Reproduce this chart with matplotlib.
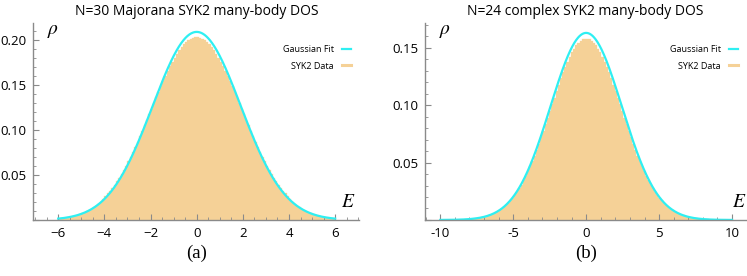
import numpy as np
import matplotlib.pyplot as plt
from matplotlib.lines import Line2D
from matplotlib.ticker import MultipleLocator, FuncFormatter

# %% data
# panel (a): N=30 Majorana, histogram bins of width 0.1 on [-6, 6] (symmetric, positive half listed)
bins_a = np.linspace(-6.0, 6.0, 121)
half_a = [0.2029, 0.2024, 0.2014, 0.1998, 0.1977, 0.1952, 0.1921, 0.1887, 0.1848, 0.1805,
          0.1759, 0.1709, 0.1656, 0.1601, 0.1544, 0.1485, 0.1424, 0.1363, 0.1300, 0.1238,
          0.1175, 0.1112, 0.1050, 0.0989, 0.0929, 0.0871, 0.0814, 0.0759, 0.0705, 0.0654,
          0.0605, 0.0558, 0.0513, 0.0471, 0.0431, 0.0394, 0.0358, 0.0326, 0.0295, 0.0266,
          0.0230, 0.0204, 0.0181, 0.0160, 0.0141, 0.0124, 0.0109, 0.0095, 0.0083, 0.0072,
          0.0062, 0.0054, 0.0047, 0.0040, 0.0035, 0.0030, 0.0025, 0.0021, 0.0018, 0.0015]
fit_a = dict(amp=0.209, mu=0.0, sigma=1.909, lo=-6, hi=6)

# panel (b): N=24 complex, histogram bins of width 0.15 on [-9, 9]
bins_b = np.linspace(-9.0, 9.0, 121)
half_b = [0.1579, 0.1573, 0.1562, 0.1544, 0.1521, 0.1493, 0.1460, 0.1422, 0.1380, 0.1334,
          0.1285, 0.1233, 0.1179, 0.1123, 0.1065, 0.1007, 0.0949, 0.0890, 0.0832, 0.0775,
          0.0719, 0.0664, 0.0612, 0.0561, 0.0513, 0.0467, 0.0424, 0.0383, 0.0345, 0.0309,
          0.0276, 0.0246, 0.0218, 0.0193, 0.0170, 0.0149, 0.0130, 0.0113, 0.0098, 0.0085,
          0.0073, 0.0063, 0.0054, 0.0046, 0.0039, 0.0033, 0.0027, 0.0023, 0.0019, 0.0016,
          0.0013, 0.0011, 0.0009, 0.0007, 0.0006, 0.0005, 0.0004, 0.0003, 0.0003, 0.0002]
fit_b = dict(amp=0.163, mu=0.0, sigma=2.447, lo=-10, hi=10)

titles = ['N=30 Majorana SYK2 many-body DOS', 'N=24 complex SYK2 many-body DOS']
panel_tags = ['(a)', '(b)']

FILL = '#F5D197'
CYAN = '#2EEFF2'
AXC = '#8a8a8a'


def heights(half):
	return np.array(half[::-1] + half)


def gauss(x, amp, mu, sigma):
	return amp * np.exp(-(x - mu)**2 / (2 * sigma**2))


def draw_panel(ax, bins, h, fit, xlim, ylim, xmaj, xmin, hyphen=False):
	ax.bar(bins[:-1], h, width=np.diff(bins), align='edge', color=FILL,
		edgecolor=FILL, linewidth=0.2, zorder=1)
	x = np.linspace(fit['lo'], fit['hi'], 600)
	ax.plot(x, gauss(x, fit['amp'], fit['mu'], fit['sigma']), color=CYAN, lw=1.6, zorder=2)

	ax.set_xlim(*xlim)
	ax.set_ylim(*ylim)
	for s in ['top', 'right']:
		ax.spines[s].set_visible(False)
	for s in ['left', 'bottom']:
		ax.spines[s].set_color(AXC)
		ax.spines[s].set_linewidth(1.0)
	ax.xaxis.set_major_locator(MultipleLocator(xmaj))
	ax.xaxis.set_minor_locator(MultipleLocator(xmin))
	ax.yaxis.set_major_locator(MultipleLocator(0.05))
	ax.yaxis.set_minor_locator(MultipleLocator(0.01))
	ax.tick_params(which='both', direction='in', color=AXC, labelsize=9.5, pad=5)
	ax.tick_params(which='major', length=4, width=0.8)
	ax.tick_params(which='minor', length=2, width=0.6)
	ax.yaxis.set_major_formatter(FuncFormatter(lambda v, p: '' if abs(v) < 1e-9 else f'{v:.2f}'))
	if hyphen:
		ax.xaxis.set_major_formatter(FuncFormatter(lambda v, p: f'{v:g}'))
	for lab in ax.get_xticklabels() + ax.get_yticklabels():
		lab.set_family('Open Sans')

	# legend proxies: short line swatches to the right of the text
	hd = [Line2D([], [], color=CYAN, lw=1.6), Line2D([], [], color=FILL, lw=2.2)]
	ax.legend(hd, ['Gaussian Fit', 'SYK2 Data'], loc='upper right', bbox_to_anchor=(1.0, 0.93),
		frameon=False, markerfirst=False, handlelength=1.0, handletextpad=0.9,
		labelspacing=0.85, prop={'family': 'Open Sans', 'size': 6.5})


fig = plt.figure(figsize=(7.47, 2.76), dpi=100)
plt.rcParams['mathtext.fontset'] = 'stix'

ax1 = fig.add_axes([0.0446, 0.203, 0.4365, 0.714])
ax2 = fig.add_axes([0.5693, 0.203, 0.4294, 0.714])

draw_panel(ax1, bins_a, heights(half_a), fit_a, (-7.08, 7.05), (0, 0.219), 2, 0.5)
draw_panel(ax2, bins_b, heights(half_b), fit_b, (-11.03, 10.96), (0, 0.1717), 5, 1, hyphen=True)

for ax, t, tag in zip([ax1, ax2], titles, panel_tags):
	ax.set_title(t, family='Open Sans', fontsize=10, pad=6)
	ax.text(0.5, -0.167, tag, transform=ax.transAxes, ha='center', va='center',
		family='Liberation Serif', fontsize=13.5)

ax1.text(0.042, 0.962, r'$\rho$', transform=ax1.transAxes, fontsize=14, ha='left', va='center')
ax1.text(0.965, 0.095, r'$E$', transform=ax1.transAxes, fontsize=14, ha='center', va='center')
ax2.text(0.042, 0.962, r'$\rho$', transform=ax2.transAxes, fontsize=14, ha='left', va='center')
ax2.text(0.98, 0.095, r'$E$', transform=ax2.transAxes, fontsize=14, ha='center', va='center')

fig.savefig('out.png', dpi=100)
